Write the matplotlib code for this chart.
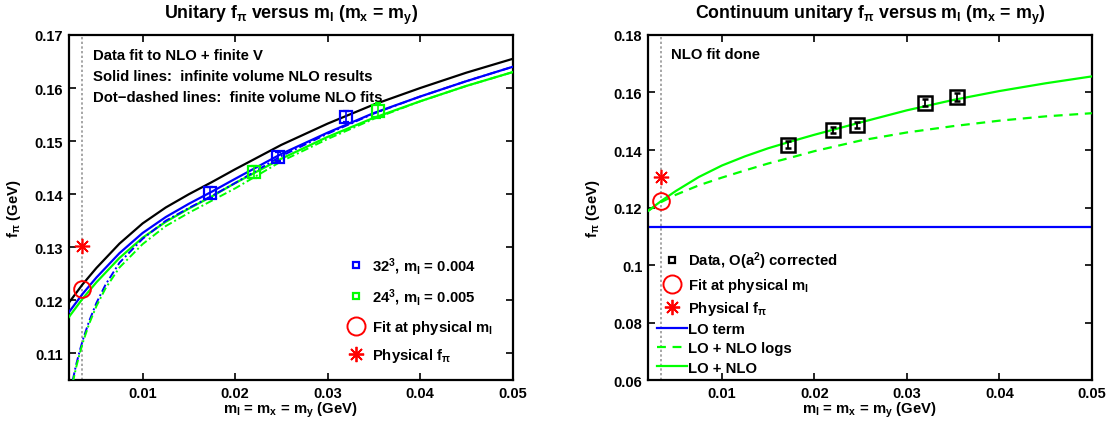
import matplotlib
matplotlib.use("Agg")
import matplotlib.pyplot as plt
from matplotlib.lines import Line2D

plt.rcParams['font.family'] = ['Liberation Sans', 'DejaVu Sans']
plt.rcParams['font.weight'] = 'bold'
plt.rcParams['mathtext.fontset'] = 'custom'
plt.rcParams['mathtext.rm'] = 'Liberation Sans:bold'
plt.rcParams['mathtext.it'] = 'Liberation Sans:bold'
plt.rcParams['mathtext.bf'] = 'Liberation Sans:bold'
plt.rcParams['mathtext.sf'] = 'Liberation Sans:bold'
plt.rcParams['mathtext.default'] = 'rm'

# ---------------- data ----------------
m_phys = 0.00342

# left panel: lattice data
x_32 = [0.0173, 0.0246, 0.0320]
f_32 = [0.1403, 0.1471, 0.1546]
e_32 = [0.0011, 0.0008, 0.0010]
x_24 = [0.0220, 0.0355]
f_24 = [0.1442, 0.1557]
e_24 = [0.0011, 0.0014]
fit_phys_left = 0.1222
fpi_phys_left = 0.1302

# curves
x_grid = [0.002, 0.0035, 0.005, 0.0075, 0.01, 0.0125, 0.015, 0.0175, 0.02,
          0.025, 0.03, 0.035, 0.04, 0.045, 0.05]
f_black = [0.1195, 0.1230, 0.1261, 0.1307, 0.1345, 0.1375, 0.1400, 0.1423, 0.1447,
           0.1493, 0.1533, 0.1569, 0.1600, 0.1629, 0.1655]
f_blue = [0.1177, 0.1212, 0.1243, 0.1289, 0.1327, 0.1357, 0.1382, 0.1405, 0.1429,
          0.1476, 0.1516, 0.1553, 0.1584, 0.1613, 0.1640]
f_green = [0.1168, 0.1203, 0.1234, 0.1280, 0.1318, 0.1348, 0.1373, 0.1396, 0.1421,
           0.1467, 0.1508, 0.1544, 0.1575, 0.1604, 0.1630]

x_fv = [0.00245, 0.0028, 0.0032, 0.0036, 0.0042, 0.005, 0.006, 0.0075, 0.01, 0.0125,
        0.015, 0.0175, 0.02, 0.025, 0.03, 0.035, 0.04, 0.045, 0.05]
f_fv_blue = [0.1050, 0.1078, 0.1105, 0.1129, 0.1160, 0.1195, 0.1230, 0.1271, 0.1316, 0.1350,
             0.1374, 0.1397, 0.1421, 0.1472, 0.1514, 0.1552, 0.1584, 0.1613, 0.1640]
f_fv_green = [0.1045, 0.1073, 0.1100, 0.1124, 0.1155, 0.1189, 0.1223, 0.1262, 0.1306, 0.1340,
              0.1365, 0.1388, 0.1411, 0.1462, 0.1504, 0.1542, 0.1575, 0.1604, 0.1630]

# right panel: continuum data
x_cont = [0.0172, 0.0220, 0.0246, 0.0320, 0.0354]
f_cont = [0.1419, 0.1469, 0.1486, 0.1565, 0.1584]
e_cont = [0.0012, 0.0011, 0.0010, 0.0012, 0.0013]
fit_phys_right = 0.1223
fpi_phys_right = 0.1305
f_lo = 0.1131
f_nlo = [0.1188, 0.1224, 0.1257, 0.1306, 0.1346, 0.1378, 0.1406, 0.1430, 0.1453,
         0.1496, 0.1538, 0.1574, 0.1605, 0.1632, 0.1656]
f_nlo_logs = [0.1188, 0.1220, 0.1244, 0.1277, 0.1304, 0.1329, 0.1353, 0.1374, 0.1396,
              0.1433, 0.1461, 0.1483, 0.1502, 0.1517, 0.1528]

left_yticks = [0.11, 0.12, 0.13, 0.14, 0.15, 0.16, 0.17]
right_yticks = [0.06, 0.08, 0.1, 0.12, 0.14, 0.16, 0.18]
xticks = [0.01, 0.02, 0.03, 0.04, 0.05]

# ---------------- figure ----------------
fig = plt.figure(figsize=(11.14, 4.27), dpi=100)
ax1 = fig.add_axes([0.0616, 0.1077, 0.3985, 0.808])
ax2 = fig.add_axes([0.5816, 0.1077, 0.3985, 0.808])

BLUE = (0, 0, 1)
GREEN = (0, 1, 0)
RED = (1, 0, 0)
FS = 10.7
TFS = 10.5
STAR = (8, 2, 0)


def style_axes(ax, yticks, ylim):
    ax.set_xlim(0.002, 0.05)
    ax.set_ylim(*ylim)
    ax.set_xticks(xticks)
    ax.set_xticklabels(['%g' % t for t in xticks])
    ax.set_yticks(yticks)
    ax.set_yticklabels(['%g' % t for t in yticks])
    ax.tick_params(direction='in', top=True, right=True, length=5, width=1.2,
                   labelsize=TFS, pad=4)
    for lab in ax.get_xticklabels() + ax.get_yticklabels():
        lab.set_fontweight('bold')
    for s in ax.spines.values():
        s.set_linewidth(1.6)
    ax.axvline(m_phys, color='0.65', linestyle=(0, (1.2, 1.2)), linewidth=1.4, zorder=1)
    ax.set_xlabel('m$_{l}$ = m$_{x}$ = m$_{y}$ (GeV)', fontsize=FS, fontweight='bold', labelpad=0)
    ax.set_ylabel('f$_{\\pi}$ (GeV)', fontsize=FS, fontweight='bold', labelpad=8)


# ---- left panel ----
style_axes(ax1, left_yticks, (0.105, 0.17))
ax1.plot(x_grid, f_black, color='k', lw=1.6, zorder=3)
ax1.plot(x_grid, f_blue, color=BLUE, lw=1.6, zorder=3)
ax1.plot(x_grid, f_green, color=GREEN, lw=1.6, zorder=3)
ax1.plot(x_fv, f_fv_blue, color=BLUE, lw=1.4, linestyle=(0, (4, 1.5, 1, 1.5)), zorder=3)
ax1.plot(x_fv, f_fv_green, color=GREEN, lw=1.4, linestyle=(0, (4, 1.5, 1, 1.5)), zorder=3)
ax1.errorbar(x_32, f_32, yerr=e_32, fmt='s', color=BLUE, mfc='none', mec=BLUE,
             ms=9, mew=1.6, capsize=2.5, elinewidth=1.2, zorder=4)
ax1.errorbar(x_24, f_24, yerr=e_24, fmt='s', color=GREEN, mfc='none', mec=GREEN,
             ms=9, mew=1.6, capsize=2.5, elinewidth=1.2, zorder=4)
ax1.plot([m_phys], [fit_phys_left], 'o', mfc='none', mec=RED, ms=12, mew=1.4, zorder=5)
ax1.plot([m_phys], [fpi_phys_left], marker=STAR, color=RED, ms=11, mew=1.2,
         linestyle='none', zorder=5)

ax1.text(0.0046, 0.1663, 'Data fit to NLO + finite V', fontsize=FS,
         fontweight='bold', va='center')
ax1.text(0.0046, 0.1623, 'Solid lines:  infinite volume NLO results', fontsize=FS,
         fontweight='bold', va='center')
ax1.text(0.0046, 0.1584, 'Dot\u2212dashed lines:  finite volume NLO fits', fontsize=FS,
         fontweight='bold', va='center')
ax1.set_title('Unitary f$_{\\pi}$ versus m$_{l}$ (m$_{x}$ = m$_{y}$)', fontsize=12.8,
              fontweight='bold', pad=12)

h_left = [
    Line2D([], [], linestyle='none', marker='s', mfc='none', mec=BLUE, ms=5, mew=1.6),
    Line2D([], [], linestyle='none', marker='s', mfc='none', mec=GREEN, ms=5, mew=1.6),
    Line2D([], [], linestyle='none', marker='o', mfc='none', mec=RED, ms=13, mew=1.4),
    Line2D([], [], linestyle='none', marker=STAR, color=RED, ms=11, mew=1.3),
]
l_left = ['32$^{3}$, m$_{l}$ = 0.004', '24$^{3}$, m$_{l}$ = 0.005',
          'Fit at physical m$_{l}$', 'Physical f$_{\\pi}$']
ax1.legend(h_left, l_left, loc='lower left', bbox_to_anchor=(0.60, 0.015), frameon=False,
           fontsize=FS, handlelength=1.4, handletextpad=0.4, labelspacing=0.72,
           borderpad=0.2)

# ---- right panel ----
style_axes(ax2, right_yticks, (0.06, 0.18))
ax2.axhline(f_lo, color=BLUE, lw=1.6, zorder=2)
ax2.plot(x_grid, f_nlo_logs, color=GREEN, lw=1.6, linestyle=(0, (4, 3)), zorder=3)
ax2.plot(x_grid, f_nlo, color=GREEN, lw=1.6, zorder=3)
ax2.errorbar(x_cont, f_cont, yerr=e_cont, fmt='s', color='k', mfc='none', mec='k',
             ms=9.5, mew=1.8, capsize=2.2, elinewidth=1.3, zorder=4)
ax2.plot([m_phys], [fit_phys_right], 'o', mfc='none', mec=RED, ms=12, mew=1.4, zorder=5)
ax2.plot([m_phys], [fpi_phys_right], marker=STAR, color=RED, ms=11, mew=1.2,
         linestyle='none', zorder=5)
ax2.text(0.0045, 0.1734, 'NLO fit done', fontsize=FS, fontweight='bold', va='center')
ax2.set_title('Continuum unitary f$_{\\pi}$ versus m$_{l}$ (m$_{x}$ = m$_{y}$)', fontsize=12.8,
              fontweight='bold', pad=12)

h_right = [
    Line2D([], [], linestyle='none', marker='s', mfc='none', mec='k', ms=5, mew=1.6),
    Line2D([], [], linestyle='none', marker='o', mfc='none', mec=RED, ms=13, mew=1.4),
    Line2D([], [], linestyle='none', marker=STAR, color=RED, ms=11, mew=1.3),
    Line2D([], [], color=BLUE, lw=1.6),
    Line2D([], [], color=GREEN, lw=1.6, linestyle=(0, (4, 3))),
    Line2D([], [], color=GREEN, lw=1.6),
]
l_right = ['Data, O(a$^{2}$) corrected', 'Fit at physical m$_{l}$', 'Physical f$_{\\pi}$',
           'LO term', 'LO + NLO logs', 'LO + NLO']
ax2.legend(h_right, l_right, loc='lower left', bbox_to_anchor=(0.0, -0.01), frameon=False,
           fontsize=FS, handlelength=2.0, handletextpad=0.1, labelspacing=0.34,
           borderpad=0.1)

fig.savefig('out.png', dpi=100)
